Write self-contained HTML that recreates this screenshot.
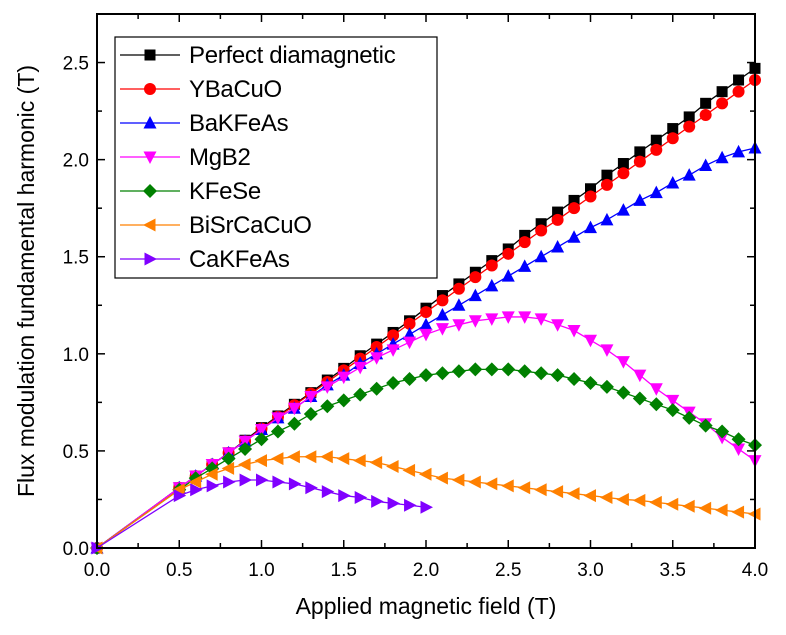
<!DOCTYPE html>
<html><head><meta charset="utf-8"><style>
body{margin:0;background:#fff;}
svg{display:block;font-family:"Liberation Sans",Arial,sans-serif;}
</style></head><body>
<svg id="chart" width="786" height="635" viewBox="0 0 786 635" xmlns="http://www.w3.org/2000/svg"></svg>
<script>
const xTicks=[0,0.5,1.0,1.5,2.0,2.5,3.0,3.5,4.0];
const yTicks=[0,0.5,1.0,1.5,2.0,2.5];
const xs=[0.5,0.6,0.7,0.8,0.9,1.0,1.1,1.2,1.3,1.4,1.5,1.6,1.7,1.8,1.9,2.0,2.1,2.2,2.3,2.4,2.5,2.6,2.7,2.8,2.9,3.0,3.1,3.2,3.3,3.4,3.5,3.6,3.7,3.8,3.9,4.0];
const perfect=[0.31,0.37,0.43,0.49,0.555,0.62,0.68,0.74,0.80,0.865,0.925,0.99,1.05,1.11,1.17,1.235,1.30,1.36,1.42,1.48,1.54,1.61,1.67,1.73,1.79,1.85,1.92,1.98,2.04,2.10,2.16,2.22,2.29,2.35,2.41,2.47];
const ybacuo=[0.31,0.37,0.43,0.49,0.55,0.615,0.675,0.735,0.795,0.855,0.915,0.975,1.035,1.095,1.155,1.215,1.275,1.335,1.395,1.455,1.515,1.575,1.635,1.69,1.75,1.81,1.87,1.93,1.99,2.05,2.11,2.17,2.23,2.29,2.35,2.41];
const bakfeas=[0.31,0.37,0.43,0.49,0.55,0.61,0.67,0.72,0.78,0.84,0.89,0.95,1.00,1.05,1.10,1.15,1.20,1.25,1.30,1.35,1.40,1.45,1.50,1.55,1.60,1.65,1.69,1.74,1.79,1.83,1.88,1.92,1.97,2.01,2.04,2.06];
const mgb2=[0.31,0.37,0.43,0.49,0.55,0.61,0.67,0.72,0.78,0.83,0.88,0.93,0.98,1.02,1.06,1.10,1.13,1.15,1.17,1.18,1.19,1.19,1.18,1.15,1.12,1.07,1.02,0.96,0.89,0.82,0.76,0.70,0.64,0.57,0.51,0.45];
const kfese=[0.30,0.36,0.41,0.46,0.51,0.56,0.60,0.64,0.69,0.73,0.76,0.79,0.82,0.85,0.87,0.89,0.90,0.91,0.92,0.92,0.92,0.91,0.90,0.89,0.87,0.85,0.83,0.80,0.77,0.74,0.71,0.67,0.63,0.60,0.56,0.53];
const bisrcacuo=[0.30,0.34,0.38,0.41,0.43,0.45,0.46,0.47,0.47,0.47,0.46,0.45,0.44,0.42,0.40,0.38,0.36,0.35,0.34,0.33,0.32,0.31,0.30,0.29,0.28,0.27,0.26,0.25,0.245,0.235,0.225,0.215,0.205,0.195,0.185,0.175];
const cakfeas=[0.27,0.30,0.32,0.34,0.35,0.35,0.34,0.33,0.31,0.29,0.27,0.26,0.24,0.23,0.22,0.21];
const seriesNames=["Perfect diamagnetic","YBaCuO","BaKFeAs","MgB2","KFeSe","BiSrCaCuO","CaKFeAs"];
const seriesData=[perfect,ybacuo,bakfeas,mgb2,kfese,bisrcacuo,cakfeas];
const colors=["#000000","#ff0000","#0000ff","#ff00ff","#008000","#ff8000","#8000ff"];
const shapes=["square","circle","up","down","diamond","left","right"];

const L=97,R=755,T=14,B=548;
const sx=v=>L+(v-0)/(4.0-0)*(R-L);
const sy=v=>B-(v-0)/(2.75-0)*(B-T);
const NS="http://www.w3.org/2000/svg";
const svg=document.getElementById('chart');
function mk(tag,attrs,parent){const e=document.createElementNS(NS,tag);for(const k in attrs)e.setAttribute(k,attrs[k]);(parent||svg).appendChild(e);return e;}
function marker(shape,cx,cy,c,g){
  const s=6;let e;
  if(shape==="square")e=mk('rect',{x:cx-s+0.5,y:cy-s+0.5,width:2*s-1,height:2*s-1,fill:c},g);
  else if(shape==="circle")e=mk('circle',{cx:cx,cy:cy,r:s,fill:c},g);
  else{let p;
    if(shape==="up")p=[[cx,cy-s-1],[cx+s+0.5,cy+s-0.5],[cx-s-0.5,cy+s-0.5]];
    if(shape==="down")p=[[cx,cy+s+1],[cx+s+0.5,cy-s+0.5],[cx-s-0.5,cy-s+0.5]];
    if(shape==="left")p=[[cx-s-1,cy],[cx+s-0.5,cy-s-0.5],[cx+s-0.5,cy+s+0.5]];
    if(shape==="right")p=[[cx+s+1,cy],[cx-s+0.5,cy-s-0.5],[cx-s+0.5,cy+s+0.5]];
    if(shape==="diamond")p=[[cx,cy-s-1],[cx+s+1,cy],[cx,cy+s+1],[cx-s-1,cy]];
    e=mk('polygon',{points:p.map(q=>q.join(',')).join(' '),fill:c},g);}
  return e;
}
seriesData.forEach((d,i)=>{
  const g=mk('g',{});
  
  
  const pts=[[sx(0),sy(0)]].concat(d.map((v,j)=>[sx(xs[j]),sy(v)]));
  const pl=mk('polyline',{points:pts.map(p=>p.join(',')).join(' '),fill:'none',stroke:colors[i],'stroke-width':1.3},g);
  
  
  const m0=marker(shapes[i],sx(0),sy(0),colors[i],g);
  
  
  d.forEach((v,j)=>{const m=marker(shapes[i],sx(xs[j]),sy(v),colors[i],g);
    
    });
});
const fr=mk('rect',{x:L,y:T,width:R-L,height:B-T,fill:'none',stroke:'#000','stroke-width':2});


for(let v=0;v<=4.0001;v+=0.25){
  const x=sx(v);const len=(Math.abs(v*2-Math.round(v*2))<1e-6)?8:5;
  mk('line',{x1:x,y1:B,x2:x,y2:B-len,stroke:'#000','stroke-width':1.5});
  mk('line',{x1:x,y1:T,x2:x,y2:T+len,stroke:'#000','stroke-width':1.5});
}
for(let v=0;v<=2.7501;v+=0.25){
  const y=sy(v);const len=(Math.abs(v*2-Math.round(v*2))<1e-6)?8:5;
  mk('line',{x1:L,y1:y,x2:L+len,y2:y,stroke:'#000','stroke-width':1.5});
  mk('line',{x1:R,y1:y,x2:R-len,y2:y,stroke:'#000','stroke-width':1.5});
}
xTicks.forEach(v=>{const t=mk('text',{x:sx(v),y:B+28,'text-anchor':'middle','font-size':19});t.textContent=v.toFixed(1);
  });
yTicks.forEach(v=>{const t=mk('text',{x:L-8,y:sy(v)+7,'text-anchor':'end','font-size':19});t.textContent=v.toFixed(1);
  });
const xt=mk('text',{x:426,y:614,'text-anchor':'middle','font-size':23});xt.textContent='Applied magnetic field (T)';

const yt=mk('text',{x:0,y:0,'text-anchor':'middle','font-size':23,transform:'translate(34,281) rotate(-90)'});yt.textContent='Flux modulation fundamental harmonic (T)';

const lg=mk('g',{});


mk('rect',{x:115,y:37,width:322,height:241,fill:'#fff',stroke:'#000','stroke-width':1.2},lg);
seriesNames.forEach((n,i)=>{
  const y=55+i*34;
  const e=mk('g',{},lg);
  
  
  mk('line',{x1:120,y1:y,x2:180,y2:y,stroke:colors[i],'stroke-width':1.3},e);
  marker(shapes[i],150,y,colors[i],e);
  const t=mk('text',{x:189,y:y+8,'font-size':24,'letter-spacing':'-0.3'},e);t.textContent=n;
});
</script>
</body></html>
